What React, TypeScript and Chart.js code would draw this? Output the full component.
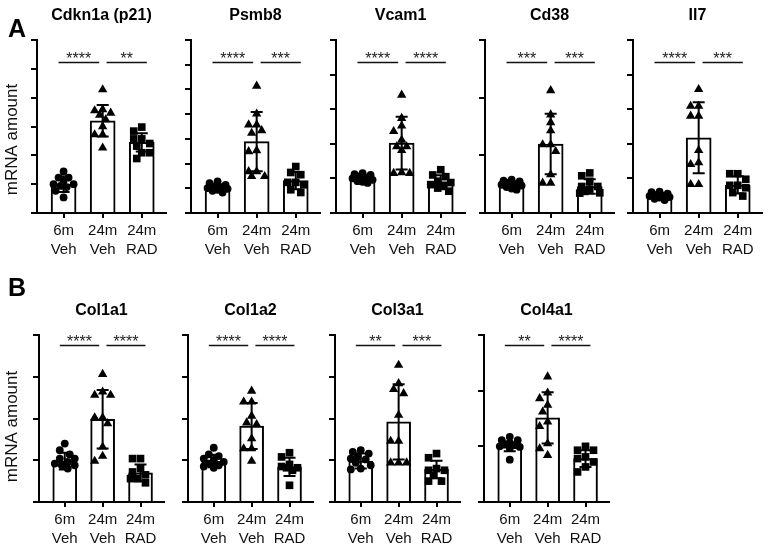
import React, { useEffect, useRef } from "react";
import { Chart, registerables } from "chart.js";
Chart.register(...registerables);

const FONT = "'Liberation Sans', Arial, Helvetica, sans-serif";
const GROUP_LABELS = [["6m", "Veh"], ["24m", "Veh"], ["24m", "RAD"]];
const Y_LABEL = "mRNA amount";
const POINT_STYLES = ["circle", "triangle", "rect"];
const POINT_RADII = [3.9, 5.4, 5.4];

// ---- Row A ----
const CDKN1A_6M_VEH = [1.44, 1.23, 1.23, 1.11, 1.0, 1.0, 0.94, 0.9, 0.77, 0.54];
const CDKN1A_24M_VEH = [4.28, 3.59, 3.55, 3.47, 3.4, 3.24, 3.0, 2.72, 2.72, 2.26];
const CDKN1A_24M_RAD = [2.98, 2.84, 2.57, 2.57, 2.41, 2.32, 2.09, 2.09, 1.89];
const CDKN1A_MEAN = [1.0, 3.2, 2.45];
const CDKN1A_SD = [0.27, 0.55, 0.32];
const CDKN1A_SIG = ["****", "**"];

const PSMB8_6M_VEH = [1.28, 1.21, 1.14, 1.08, 1.05, 1.01, 0.98, 0.94, 0.9, 0.83];
const PSMB8_24M_VEH = [5.14, 4.01, 3.57, 3.57, 3.34, 3.23, 2.53, 2.49, 1.68, 1.68, 1.48, 1.48];
const PSMB8_24M_RAD = [1.88, 1.64, 1.55, 1.24, 1.24, 1.14, 0.94, 0.83];
const PSMB8_MEAN = [1.0, 2.89, 1.31];
const PSMB8_SD = [0.15, 1.2, 0.35];
const PSMB8_SIG = ["****", "***"];

const VCAM1_6M_VEH = [1.15, 1.12, 1.1, 1.06, 1.02, 1.0, 0.96, 0.92, 0.9, 0.87];
const VCAM1_24M_VEH = [3.41, 2.74, 2.52, 2.36, 2.11, 1.92, 1.92, 1.81, 1.17, 1.15, 1.15];
const VCAM1_24M_RAD = [1.25, 1.1, 1.05, 0.92, 0.88, 0.82, 0.8, 0.72, 0.63];
const VCAM1_MEAN = [1.0, 2.02, 0.89];
const VCAM1_SD = [0.1, 0.76, 0.2];
const VCAM1_SIG = ["****", "****"];

const CD38_6M_VEH = [1.16, 1.12, 1.1, 1.05, 1.0, 0.98, 0.95, 0.9, 0.85, 0.81];
const CD38_24M_VEH = [4.25, 3.41, 3.14, 2.86, 2.37, 2.37, 2.14, 1.33, 1.04, 1.04];
const CD38_24M_RAD = [1.39, 1.29, 1.1, 0.92, 0.92, 0.83, 0.75, 0.7, 0.69];
const CD38_MEAN = [0.98, 2.39, 0.92];
const CD38_SD = [0.1, 1.05, 0.25];
const CD38_SIG = ["***", "***"];

const IL7_6M_VEH = [1.23, 1.2, 1.12, 1.05, 1.0, 0.98, 0.92, 0.89, 0.82, 0.75];
const IL7_24M_VEH = [7.15, 6.18, 6.18, 5.61, 5.61, 3.62, 2.91, 2.81, 1.66, 1.66];
const IL7_24M_RAD = [2.27, 2.27, 1.95, 1.6, 1.6, 1.46, 1.18, 0.98];
const IL7_MEAN = [0.98, 4.35, 1.62];
const IL7_SD = [0.15, 2.05, 0.5];
const IL7_SIG = ["****", "***"];

// ---- Row B ----
const COL1A1_6M_VEH = [1.4, 1.24, 1.14, 1.04, 1.04, 0.96, 0.92, 0.88, 0.88, 0.8];
const COL1A1_24M_VEH = [3.06, 2.64, 2.56, 2.56, 2.02, 2.02, 1.88, 1.32, 1.1, 0.98];
const COL1A1_24M_RAD = [1.04, 1.04, 0.8, 0.72, 0.65, 0.56, 0.56, 0.46];
const COL1A1_MEAN = [0.98, 1.98, 0.7];
const COL1A1_SD = [0.2, 0.7, 0.2];
const COL1A1_SIG = ["****", "****"];

const COL1A2_6M_VEH = [1.3, 1.14, 1.1, 1.04, 1.0, 0.96, 0.92, 0.88, 0.85, 0.82];
const COL1A2_24M_VEH = [2.66, 2.4, 2.4, 2.06, 1.9, 1.86, 1.52, 1.28, 1.28, 0.98];
const COL1A2_24M_RAD = [1.18, 1.08, 0.9, 0.85, 0.82, 0.82, 0.76, 0.4];
const COL1A2_MEAN = [0.98, 1.82, 0.84];
const COL1A2_SD = [0.15, 0.55, 0.22];
const COL1A2_SIG = ["****", "****"];

const COL3A1_6M_VEH = [1.24, 1.2, 1.16, 1.08, 1.04, 1.02, 0.94, 0.88, 0.8, 0.78];
const COL3A1_24M_VEH = [3.28, 2.84, 2.7, 2.6, 2.08, 1.46, 1.46, 0.94, 0.94, 0.94];
const COL3A1_24M_RAD = [1.16, 1.06, 0.8, 0.76, 0.76, 0.64, 0.5, 0.5];
const COL3A1_MEAN = [0.98, 1.92, 0.78];
const COL3A1_SD = [0.18, 0.9, 0.21];
const COL3A1_SIG = ["**", "***"];

const COL4A1_6M_VEH = [1.17, 1.11, 1.11, 1.06, 1.04, 1.02, 1.0, 0.99, 0.97, 0.76];
const COL4A1_24M_VEH = [2.25, 1.96, 1.86, 1.74, 1.62, 1.44, 1.36, 1.05, 0.96, 0.84];
const COL4A1_24M_RAD = [1.0, 0.93, 0.93, 0.81, 0.78, 0.72, 0.63, 0.54];
const COL4A1_MEAN = [0.99, 1.51, 0.78];
const COL4A1_SD = [0.08, 0.46, 0.15];
const COL4A1_SIG = ["**", "****"];

type PanelCfg = {
  title: string; yMax: number; yStep: number;
  groups: number[][]; mean: number[]; sd: number[]; sig: string[];
};

const ROW_A: PanelCfg[] = [
  { title: "Cdkn1a (p21)", yMax: 6, yStep: 1, groups: [CDKN1A_6M_VEH, CDKN1A_24M_VEH, CDKN1A_24M_RAD], mean: CDKN1A_MEAN, sd: CDKN1A_SD, sig: CDKN1A_SIG },
  { title: "Psmb8", yMax: 7, yStep: 1, groups: [PSMB8_6M_VEH, PSMB8_24M_VEH, PSMB8_24M_RAD], mean: PSMB8_MEAN, sd: PSMB8_SD, sig: PSMB8_SIG },
  { title: "Vcam1", yMax: 5, yStep: 1, groups: [VCAM1_6M_VEH, VCAM1_24M_VEH, VCAM1_24M_RAD], mean: VCAM1_MEAN, sd: VCAM1_SD, sig: VCAM1_SIG },
  { title: "Cd38", yMax: 6, yStep: 2, groups: [CD38_6M_VEH, CD38_24M_VEH, CD38_24M_RAD], mean: CD38_MEAN, sd: CD38_SD, sig: CD38_SIG },
  { title: "Il7", yMax: 10, yStep: 2, groups: [IL7_6M_VEH, IL7_24M_VEH, IL7_24M_RAD], mean: IL7_MEAN, sd: IL7_SD, sig: IL7_SIG },
];

const ROW_B: PanelCfg[] = [
  { title: "Col1a1", yMax: 4, yStep: 1, groups: [COL1A1_6M_VEH, COL1A1_24M_VEH, COL1A1_24M_RAD], mean: COL1A1_MEAN, sd: COL1A1_SD, sig: COL1A1_SIG },
  { title: "Col1a2", yMax: 4, yStep: 1, groups: [COL1A2_6M_VEH, COL1A2_24M_VEH, COL1A2_24M_RAD], mean: COL1A2_MEAN, sd: COL1A2_SD, sig: COL1A2_SIG },
  { title: "Col3a1", yMax: 4, yStep: 1, groups: [COL3A1_6M_VEH, COL3A1_24M_VEH, COL3A1_24M_RAD], mean: COL3A1_MEAN, sd: COL3A1_SD, sig: COL3A1_SIG },
  { title: "Col4a1", yMax: 3, yStep: 1, groups: [COL4A1_6M_VEH, COL4A1_24M_VEH, COL4A1_24M_RAD], mean: COL4A1_MEAN, sd: COL4A1_SD, sig: COL4A1_SIG },
];

type RowLayout = {
  canvasTop: number; areaTop: number; areaBottom: number; spacing: number;
  barW: number; axisX: number[]; sigFrac: number; yLabelShift: number;
};

const LAYOUT_A: RowLayout = { canvasTop: 0, areaTop: 40, areaBottom: 213, spacing: 39, barW: 25, axisX: [37, 191, 336, 485, 633], sigFrac: 0.873, yLabelShift: 13 };
const LAYOUT_B: RowLayout = { canvasTop: 295, areaTop: 335, areaBottom: 502, spacing: 38, barW: 24, axisX: [39, 188, 335, 484], sigFrac: 0.94, yLabelShift: 8 };

const X_MIN = -0.68;
const X_MAX = 2.62;
const X_AXIS_H = 45;
const RIGHT_PAD = 6;

// simple beeswarm: horizontal offsets (in x data units) so markers don't overlap too much
function swarm(vals: number[], pxPerY: number, pxPerX: number, minDist: number): number[] {
  const placed: [number, number][] = [];
  const cands = [0, -5, 5, -8, 8, -3, 3, -10, 10];
  return vals.map((v) => {
    const y = v * pxPerY;
    let best = 0;
    let bestD = -1;
    for (const c of cands) {
      let d = Infinity;
      for (const [px, py] of placed) d = Math.min(d, Math.hypot(px - c, py - y));
      if (d >= minDist) { best = c; bestD = d; break; }
      if (d > bestD) { bestD = d; best = c; }
    }
    placed.push([best, y]);
    return best / pxPerX;
  });
}

function Panel({ cfg, lay, idx }: { cfg: PanelCfg; lay: RowLayout; idx: number }) {
  const ref = useRef<HTMLCanvasElement | null>(null);
  const axisX = lay.axisX[idx];
  const first = idx === 0;
  const yW = first ? axisX : 12;
  const left = axisX - yW;
  const chartW = lay.spacing * (X_MAX - X_MIN);
  const width = Math.round(yW + chartW + RIGHT_PAD);
  const height = lay.areaBottom - lay.canvasTop + X_AXIS_H;
  const titleH = lay.areaTop - lay.canvasTop;

  useEffect(() => {
    if (!ref.current) return;
    const plotH = lay.areaBottom - lay.areaTop;
    const pxPerY = plotH / cfg.yMax;
    const scatterSets = cfg.groups.map((vals, g) => {
      const offs = swarm(vals, pxPerY, lay.spacing, 7.5);
      return {
        type: "scatter" as const,
        data: vals.map((v, i) => ({ x: g + offs[i], y: v })),
        pointStyle: POINT_STYLES[g],
        pointRadius: POINT_RADII[g],
        pointBackgroundColor: "#000",
        pointBorderColor: "#000",
        pointBorderWidth: 0,
        backgroundColor: "#000",
        borderColor: "#000",
        order: 0,
      };
    });

    const decor = {
      id: "decor",
      afterDatasetDraw(chart: any, args: any) {
        if (args.index !== 0) return;
        const ctx = chart.ctx;
        const meta = chart.getDatasetMeta(0);
        const ys = chart.scales.y;
        ctx.save();
        ctx.strokeStyle = "#000";
        ctx.lineWidth = 2;
        meta.data.forEach((bar: any, i: number) => {
          const x = bar.x;
          const yt = ys.getPixelForValue(cfg.mean[i] + cfg.sd[i]);
          const yb = ys.getPixelForValue(Math.max(0, cfg.mean[i] - cfg.sd[i]));
          ctx.beginPath();
          ctx.moveTo(x, yt); ctx.lineTo(x, yb);
          ctx.moveTo(x - 6, yt); ctx.lineTo(x + 6, yt);
          ctx.moveTo(x - 6, yb); ctx.lineTo(x + 6, yb);
          ctx.stroke();
        });
        ctx.restore();
      },
      afterDraw(chart: any) {
        const ctx = chart.ctx;
        const xs = chart.scales.x;
        const ys = chart.scales.y;
        const yLine = Math.round(ys.getPixelForValue(cfg.yMax * lay.sigFrac)) + 0.5;
        const spans = [[0 - 0.13, 1 - 0.09], [1 + 0.1, 2 + 0.13]];
        ctx.save();
        ctx.strokeStyle = "#111";
        ctx.lineWidth = 1.6;
        ctx.fillStyle = "#222";
        ctx.font = `16px ${FONT}`;
        ctx.textAlign = "center";
        ctx.textBaseline = "alphabetic";
        spans.forEach(([a, b], k) => {
          const x1 = xs.getPixelForValue(a);
          const x2 = xs.getPixelForValue(b);
          ctx.beginPath();
          ctx.moveTo(x1, yLine);
          ctx.lineTo(x2, yLine);
          ctx.stroke();
          ctx.fillText(cfg.sig[k], (x1 + x2) / 2, yLine + 1);
        });
        if (first) {
          const area = chart.chartArea;
          ctx.translate(12.5, (area.top + area.bottom) / 2 + lay.yLabelShift);
          ctx.rotate(-Math.PI / 2);
          ctx.textBaseline = "middle";
          ctx.fillStyle = "#111";
          ctx.font = `17px ${FONT}`;
          ctx.fillText(Y_LABEL, 0, 0);
        }
        ctx.restore();
      },
    };

    const chart = new Chart(ref.current, {
      type: "bar",
      data: {
        datasets: [
          {
            type: "bar",
            data: cfg.mean.map((m, i) => ({ x: i, y: m })),
            backgroundColor: "#fff",
            borderColor: "#000",
            borderWidth: 2,
            borderSkipped: "bottom",
            barThickness: lay.barW,
            order: 1,
          } as any,
          ...(scatterSets as any[]),
        ],
      },
      options: {
        responsive: false,
        animation: false,
        devicePixelRatio: 1,
        events: [],
        layout: { padding: { left: 0, right: RIGHT_PAD, top: 0, bottom: 0 } },
        plugins: {
          legend: { display: false },
          tooltip: { enabled: false },
          title: {
            display: true,
            text: cfg.title,
            fullSize: false,
            color: "#000",
            font: { family: FONT, size: 16, weight: "bold", lineHeight: 1.2 },
            padding: { top: 6, bottom: titleH - 6 - 19.2 },
          },
        },
        scales: {
          x: {
            type: "linear",
            min: X_MIN,
            max: X_MAX,
            offset: false,
            afterFit: (s: any) => { s.height = X_AXIS_H; },
            afterBuildTicks: (s: any) => { s.ticks = [0, 1, 2].map((v) => ({ value: v })); },
            ticks: {
              callback: (v: any) => GROUP_LABELS[Number(v)] as any,
              color: "#111",
              font: { family: FONT, size: 15, lineHeight: 1.22 },
              padding: 4,
              maxRotation: 0,
              autoSkip: false,
            },
            grid: { display: true, drawOnChartArea: false, drawTicks: true, tickLength: 5, color: "#000", lineWidth: 2, offset: false },
            border: { display: true, color: "#000", width: 2 },
          },
          y: {
            type: "linear",
            min: 0,
            max: cfg.yMax,
            afterFit: (s: any) => { s.width = yW; },
            ticks: { display: false, stepSize: cfg.yStep },
            grid: { display: true, drawOnChartArea: false, drawTicks: true, tickLength: 6, color: "#000", lineWidth: 2 },
            border: { display: true, color: "#000", width: 2 },
          },
        },
      } as any,
      plugins: [decor as any],
    });
    return () => chart.destroy();
  }, []);

  return (
    <canvas
      ref={ref}
      width={width}
      height={height}
      style={{ position: "absolute", left, top: lay.canvasTop, width, height }}
    />
  );
}

export default function App() {
  const letter: React.CSSProperties = {
    position: "absolute",
    fontFamily: FONT,
    fontWeight: "bold",
    fontSize: 25,
    lineHeight: "25px",
    color: "#000",
  };
  return (
    <div style={{ position: "absolute", left: 0, top: 0, width: 768, height: 545, overflow: "hidden", background: "#fff" }}>
      {ROW_A.map((cfg, i) => <Panel key={"a" + i} cfg={cfg} lay={LAYOUT_A} idx={i} />)}
      {ROW_B.map((cfg, i) => <Panel key={"b" + i} cfg={cfg} lay={LAYOUT_B} idx={i} />)}
      <div style={{ ...letter, left: 8, top: 16 }}>A</div>
      <div style={{ ...letter, left: 8, top: 275 }}>B</div>
    </div>
  );
}
